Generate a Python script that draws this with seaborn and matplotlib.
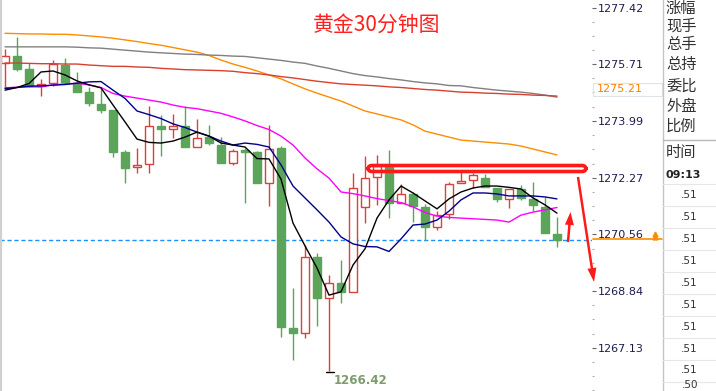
import numpy as np
import pandas as pd
import matplotlib
matplotlib.use("Agg")
import matplotlib.pyplot as plt
import seaborn as sns
from matplotlib.patches import FancyBboxPatch, FancyArrow, Rectangle

# ---------------- data (30-minute gold candles) ----------------
opens = [1275.74, 1275.95, 1275.56, 1275.05, 1275.14, 1275.68, 1275.14, 1274.86, 1274.50, 1274.32,
         1273.05, 1272.60, 1272.69, 1273.84, 1273.75, 1273.84, 1273.20, 1273.50, 1273.26, 1272.72,
         1273.11, 1273.05, 1272.11, 1273.17, 1267.73, 1267.57, 1269.87, 1268.63, 1269.09, 1268.81,
         1271.39, 1272.29, 1272.66, 1271.51, 1271.78, 1271.39, 1270.78, 1271.17, 1272.11, 1272.20,
         1272.26, 1271.96, 1271.63, 1271.93, 1271.63, 1271.39, 1270.57]
highs = [1276.17, 1276.53, 1275.74, 1275.26, 1275.83, 1275.89, 1275.47, 1275.02, 1274.99, 1274.32,
         1273.11, 1273.17, 1274.44, 1274.17, 1274.20, 1274.44, 1274.05, 1273.87, 1273.50, 1273.14,
         1273.17, 1273.08, 1273.87, 1273.23, 1268.94, 1270.24, 1269.99, 1269.33, 1269.78, 1272.41,
         1272.93, 1272.96, 1273.11, 1272.08, 1271.84, 1271.48, 1271.27, 1272.14, 1272.44, 1272.41,
         1272.38, 1271.96, 1271.93, 1272.05, 1272.14, 1271.69, 1271.08]
lows = [1275.02, 1275.50, 1275.02, 1274.74, 1275.05, 1275.14, 1274.86, 1274.44, 1274.23, 1272.90,
        1272.11, 1272.41, 1272.41, 1272.93, 1273.47, 1273.20, 1273.20, 1273.26, 1272.72, 1272.66,
        1271.51, 1272.11, 1271.42, 1267.45, 1266.76, 1267.42, 1267.79, 1266.42, 1268.48, 1268.81,
        1270.90, 1271.45, 1271.05, 1271.51, 1270.93, 1270.39, 1270.69, 1271.02, 1272.11, 1271.96,
        1271.99, 1271.54, 1271.36, 1271.60, 1271.27, 1270.60, 1270.18]
closes = [1275.95, 1275.56, 1275.05, 1275.11, 1275.71, 1275.17, 1274.86, 1274.53, 1274.32, 1273.05,
          1272.57, 1272.66, 1273.84, 1273.75, 1273.84, 1273.20, 1273.47, 1273.32, 1272.72, 1273.08,
          1273.05, 1272.11, 1273.14, 1267.76, 1267.57, 1269.87, 1268.63, 1269.09, 1268.81, 1271.96,
          1272.26, 1272.63, 1271.51, 1271.78, 1271.42, 1270.78, 1271.14, 1272.08, 1272.17, 1272.35,
          1271.99, 1271.63, 1271.93, 1271.66, 1271.45, 1270.60, 1270.39]

ma_orange = [1276.64, 1276.63, 1276.62, 1276.62, 1276.61, 1276.61, 1276.59, 1276.56, 1276.53, 1276.49,
             1276.44, 1276.39, 1276.33, 1276.28, 1276.21, 1276.14, 1276.07, 1275.97, 1275.83, 1275.71,
             1275.61, 1275.50, 1275.38, 1275.26, 1275.11, 1274.96, 1274.83, 1274.71, 1274.59, 1274.44,
             1274.29, 1274.20, 1274.11, 1274.02, 1273.87, 1273.68, 1273.59, 1273.50, 1273.41, 1273.38,
             1273.35, 1273.32, 1273.29, 1273.23, 1273.14, 1273.05, 1272.96]
ma_gray = [1276.23, 1276.23, 1276.23, 1276.23, 1276.23, 1276.23, 1276.22, 1276.20, 1276.19, 1276.16,
           1276.13, 1276.10, 1276.07, 1276.05, 1276.03, 1276.01, 1276.00, 1275.98, 1275.97, 1275.95,
           1275.94, 1275.90, 1275.86, 1275.82, 1275.77, 1275.73, 1275.65, 1275.58, 1275.50, 1275.42,
           1275.36, 1275.32, 1275.27, 1275.23, 1275.18, 1275.14, 1275.11, 1275.06, 1275.05, 1275.00,
           1274.96, 1274.92, 1274.89, 1274.86, 1274.82, 1274.77, 1274.71]
ma_red = [1275.74, 1275.74, 1275.73, 1275.72, 1275.72, 1275.71, 1275.71, 1275.68, 1275.66, 1275.64,
          1275.64, 1275.62, 1275.61, 1275.58, 1275.56, 1275.54, 1275.53, 1275.52, 1275.51, 1275.49,
          1275.45, 1275.42, 1275.38, 1275.33, 1275.29, 1275.24, 1275.19, 1275.15, 1275.11, 1275.09,
          1275.07, 1275.05, 1275.02, 1275.00, 1274.97, 1274.94, 1274.92, 1274.89, 1274.86, 1274.85,
          1274.83, 1274.82, 1274.80, 1274.79, 1274.77, 1274.76, 1274.74]
ma_magenta = [1274.99, 1275.01, 1275.02, 1275.02, 1275.08, 1275.11, 1275.13, 1275.08, 1275.00, 1274.82,
              1274.74, 1274.68, 1274.62, 1274.56, 1274.47, 1274.40, 1274.36, 1274.29, 1274.22, 1274.11,
              1273.99, 1273.85, 1273.73, 1273.53, 1273.26, 1272.87, 1272.54, 1272.26, 1271.84, 1271.79,
              1271.72, 1271.64, 1271.58, 1271.52, 1271.39, 1271.22, 1271.11, 1271.07, 1271.05, 1271.03,
              1271.01, 1270.99, 1270.93, 1271.14, 1271.23, 1271.30, 1271.37]
ma_blue = [1274.97, 1275.00, 1275.04, 1275.05, 1275.07, 1275.09, 1275.13, 1275.17, 1275.18, 1274.92,
           1274.67, 1274.29, 1274.18, 1274.06, 1273.90, 1273.79, 1273.65, 1273.53, 1273.38, 1273.26,
           1273.32, 1273.28, 1273.20, 1272.66, 1272.02, 1271.66, 1271.30, 1270.93, 1270.48, 1270.27,
           1270.19, 1270.18, 1270.04, 1270.42, 1270.84, 1270.87, 1270.99, 1271.26, 1271.60, 1271.81,
           1271.81, 1271.78, 1271.72, 1271.72, 1271.72, 1271.69, 1271.63]
ma_black = [1274.92, 1275.00, 1275.12, 1275.47, 1275.50, 1275.38, 1275.20, 1275.08, 1274.99, 1274.47,
            1273.96, 1273.44, 1273.34, 1273.32, 1273.38, 1273.50, 1273.65, 1273.53, 1273.32, 1273.26,
            1273.20, 1272.85, 1272.84, 1272.23, 1270.90, 1270.21, 1269.54, 1268.72, 1268.82, 1269.63,
            1270.12, 1271.05, 1271.60, 1272.02, 1271.81, 1271.57, 1271.33, 1271.63, 1271.84, 1271.96,
            1272.02, 1272.02, 1271.98, 1271.93, 1271.66, 1271.45, 1271.20]

ytick_vals = [1277.42, 1275.71, 1273.99, 1272.27, 1270.56, 1268.84, 1267.13]
ytick_labels = ["1277.42", "1275.71", "1273.99", "1272.27", "1270.56", "1268.84", "1267.13"]
last_price = 1270.39
low_price = 1266.42
ma_label = "1275.21"
title = "黄金30分钟图"
panel_labels = ["涨幅", "现手", "总手", "总持", "委比", "外盘", "比例"]
time_label = "时间"
time_value = "09:13"
tick_rows = [".51", ".51", ".51", ".51", ".51", ".51", ".51", ".51", ".51", ".50"]

# ---------------- styling ----------------
sns.set_theme(style="white")
plt.rcParams['font.family'] = ['DejaVu Sans', 'Noto Sans CJK SC']
CJK = ['Noto Sans CJK SC', 'DejaVu Sans']
RED = '#d8413c'
GREEN = '#5aa55a'

W, H = 716, 391
fig = plt.figure(figsize=(W / 100, H / 100), dpi=100)
fig.patch.set_facecolor('white')
ax = fig.add_axes([0, 0, 592 / W, 1])
ax.set_facecolor('white')

df = pd.DataFrame(dict(i=np.arange(len(opens)), o=opens, h=highs, l=lows, c=closes))
up = df.c > df.o
col = np.where(up, RED, GREEN)

# wicks
ax.vlines(df.i, df.l, df.h, colors=col, lw=1.0, zorder=2)
# bodies
bottom = np.minimum(df.o, df.c)
height = np.maximum(np.abs(df.c - df.o), 0.05)
ax.bar(df.i, height, bottom=bottom, width=0.72,
       color=np.where(up, 'white', GREEN), edgecolor=col, linewidth=1.0, zorder=3)

# moving averages
for vals, c in [(ma_orange, '#ff8c00'), (ma_gray, '#808080'), (ma_red, '#d8402e'),
                (ma_magenta, '#ff00ff'), (ma_blue, '#00008b'), (ma_black, '#000000')]:
    sns.lineplot(x=df.i, y=vals, color=c, lw=1.0, ax=ax, zorder=4)

ax.axhline(last_price, color='#1e8fff', lw=1.0, ls=(0, (3, 2)), zorder=1)

ax.set_xlim((0 - 5) / 12, (592 - 5) / 12)
ax.set_ylim(1265.82, 1277.647)
ax.set_xticks([])
ax.set_xlabel('')
ax.set_ylabel('')
ax.yaxis.tick_right()
ax.set_yticks(ytick_vals)
ax.set_yticklabels(ytick_labels)
minor = []
for a, b in zip(ytick_vals[:-1], ytick_vals[1:]):
    minor += list(np.linspace(a, b, 5)[1:-1])
minor += list(np.linspace(ytick_vals[-1], ytick_vals[-1] - (ytick_vals[-2] - ytick_vals[-1]), 5)[1:-1])
ax.set_yticks(minor, minor=True)
ax.tick_params(axis='y', which='major', right=True, length=3, width=0.8, color='#666666',
               pad=1.5, labelsize=8, labelcolor='#1c1c4c')
ax.tick_params(axis='y', which='minor', right=True, length=1.2, width=0.8, color='#aaaaaa')
for s in ax.spines.values():
    s.set_visible(False)

# ---------------- overlay (annotations, right panel) ----------------
ov = fig.add_axes([0, 0, 1, 1], facecolor='none')
ov.set_xlim(0, W)
ov.set_ylim(H, 0)
ov.axis('off')

ov.plot([0.7, 0.7], [0, H], color='#d0d0d0', lw=1.5)
ov.text(376.5, 25, title, color='#ff2020', fontsize=15, ha='center', va='center', family=CJK)

box = FancyBboxPatch((368, 165.5), 218, 6, boxstyle="round,pad=0,rounding_size=4",
                     fill=False, edgecolor='#ff1a1a', lw=2.6, zorder=10)
ov.add_patch(box)
ov.add_patch(FancyArrow(568, 242, 2.5, -30, width=2.5, head_width=9, head_length=13,
                        length_includes_head=True, color='#ff1a1a', lw=0, zorder=10))
ov.add_patch(FancyArrow(578, 177, 16, 105, width=2.5, head_width=9, head_length=14,
                        length_includes_head=True, color='#ff1a1a', lw=0, zorder=10))

# low mark
ov.plot([326, 334], [372, 372], color='black', lw=1)
ov.text(334, 380, f"{low_price:.2f}", color='#7f9c6c', fontsize=8.5, fontweight='bold',
        ha='left', va='center')

# price marker on axis
ov.plot([593, 662], [239, 239], color='#ff8c00', lw=1.2)
ov.plot([655, 655], [233.5, 237], marker='^', ls='none', ms=3.5, color='#ff8c00')
ov.add_patch(Rectangle((593, 83), 69, 13, fill=False, edgecolor='#dde4ea', lw=0.8))
ov.text(597, 89.5, ma_label, color='#ff8000', fontsize=8, ha='left', va='center')

# right info panel
ov.plot([663, 663], [0, H], color='#c4c4c4', lw=1)
ov.plot([663, W], [140, 140], color='#b8b8b8', lw=1)
label_y = [8, 26, 45, 65, 86, 106, 126]
for lab, yy in zip(panel_labels, label_y):
    ov.text(666, yy, lab, fontsize=11, color='#333333', ha='left', va='center', family=CJK)
ov.text(666, 152, time_label, fontsize=11, color='#333333', ha='left', va='center', family=CJK)
ov.text(665, 175, time_value, fontsize=8, fontweight='bold', color='#222222', ha='left', va='center')
for k in range(10):
    ov.plot([663, W], [184 + 22 * k, 184 + 22 * k], color='#e6e6e6', lw=0.8)
row_y = [195, 217, 239, 261, 283, 305, 327, 349, 370, 385]
for lab, yy in zip(tick_rows, row_y):
    ov.text(698, yy, lab, fontsize=7.5, color='#333333', ha='right', va='center')

fig.savefig('out.png', dpi=100)
